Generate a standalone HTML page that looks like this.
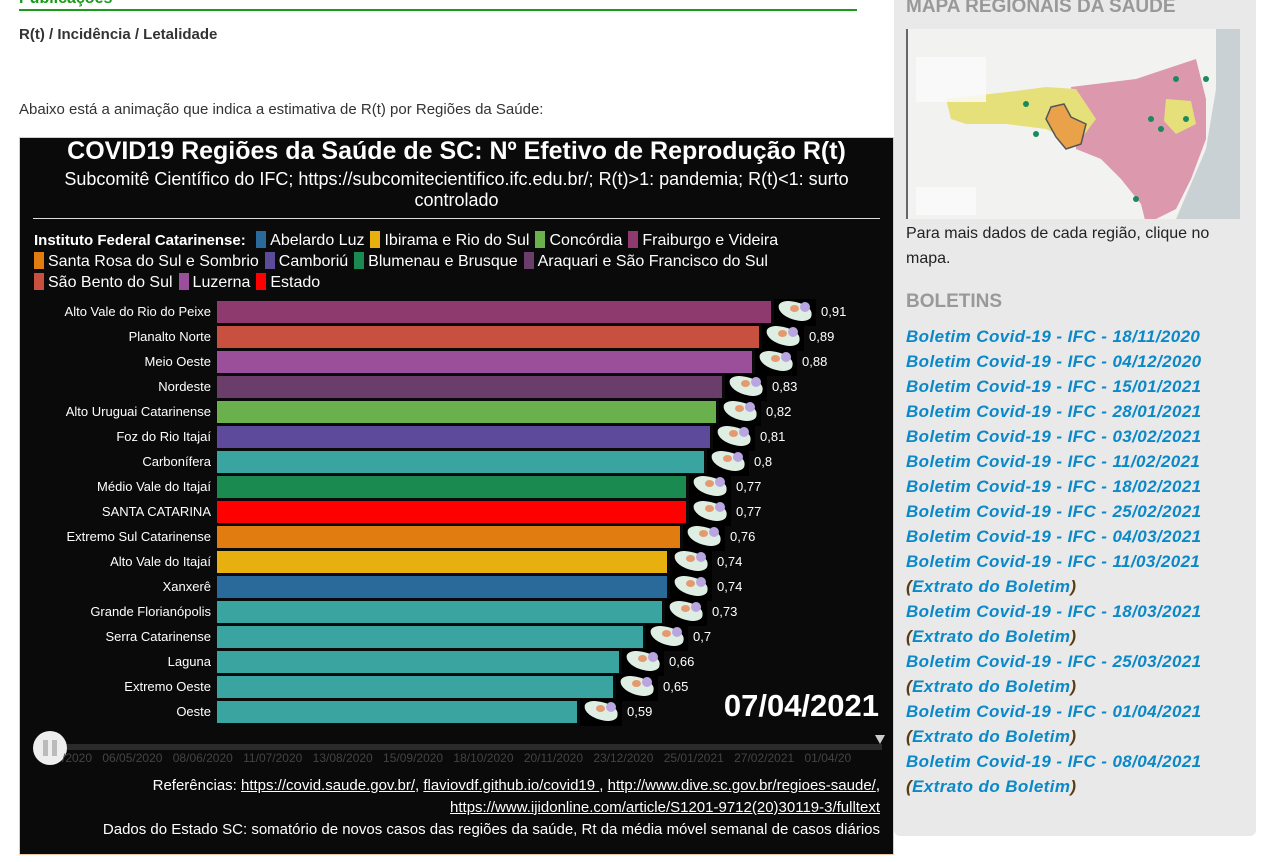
<!DOCTYPE html>
<html><head><meta charset="utf-8"><style>
*{margin:0;padding:0;box-sizing:border-box}
body{width:1272px;height:862px;background:#fff;position:relative;overflow:hidden;font-family:"Liberation Sans",sans-serif}
.a{position:absolute;white-space:nowrap}
.lab{position:absolute;right:1061px;font-size:13px;color:#fff;text-align:right;white-space:nowrap}
.bar{position:absolute;left:217px;height:22px}
.ic{position:absolute;width:42px;height:27px;background:#000}
.ic i{position:absolute;left:4px;top:3px;width:34px;height:18px;background:#dfeee2;border-radius:40% 60% 40% 70%;transform:rotate(10deg)}
.ic b{position:absolute;left:16px;top:6px;width:9px;height:7px;background:#e49a6e;border-radius:50%}
.ic s{position:absolute;left:26px;top:3px;width:10px;height:10px;background:#b9a6e0;border-radius:50%}
.val{position:absolute;font-size:13px;color:#fff}
.leg{font-size:16px;color:#fff}
.sw{display:inline-block;width:10px;height:17px;vertical-align:-3px;margin:0 4px 0 6px}
.bl{position:absolute;left:906px;font-size:17px;letter-spacing:0.4px;font-weight:bold;font-style:italic;color:#0a88c8;white-space:nowrap}
.bl span{color:#5a3a10}
</style></head><body>
<div class="a" style="left:19px;top:-10px;font-size:16px;font-weight:bold;color:#1a9a1a">Publicações</div>
<div class="a" style="left:19px;top:9px;width:838px;height:2px;background:#1a9a1a"></div>
<div class="a" style="left:19px;top:26px;font-size:15px;font-weight:bold;color:#333">R(t) / Incidência / Letalidade</div>
<div class="a" style="left:19px;top:101px;font-size:15px;color:#333">Abaixo está a animação que indica a estimativa de R(t) por Regiões da Saúde:</div>

<div class="a" style="left:19px;top:137px;width:875px;height:718px;background:#0a0a0a;border:1px solid #f0c8a8"></div>
<div class="a" style="left:19px;top:137px;width:875px;text-align:center;font-size:25px;font-weight:bold;color:#fff">COVID19 Regiões da Saúde de SC: Nº Efetivo de Reprodução R(t)</div>
<div class="a" style="left:19px;top:169px;width:875px;text-align:center;font-size:18px;color:#fff;line-height:21px;white-space:normal;padding:0 28px">Subcomitê Científico do IFC; https://subcomitecientifico.ifc.edu.br/; R(t)&gt;1: pandemia; R(t)&lt;1: surto controlado</div>
<div class="a" style="left:33px;top:218px;width:847px;height:1px;background:#ddd"></div>
<div class="a leg" style="left:34px;top:231px"><b style="font-size:15px">Instituto Federal Catarinense:</b> <span class="sw" style="background:#2a6a9a"></span>Abelardo Luz<span class="sw" style="background:#e8b00f"></span>Ibirama e Rio do Sul<span class="sw" style="background:#6ab04c"></span>Concórdia<span class="sw" style="background:#8e3a6e"></span>Fraiburgo e Videira</div>
<div class="a leg" style="left:28px;top:252px"><span class="sw" style="background:#e07c10"></span>Santa Rosa do Sul e Sombrio<span class="sw" style="background:#5e4a9a"></span>Camboriú<span class="sw" style="background:#1a8a50"></span>Blumenau e Brusque<span class="sw" style="background:#6b3d6b"></span>Araquari e São Francisco do Sul</div>
<div class="a leg" style="left:28px;top:273px"><span class="sw" style="background:#c8503f"></span>São Bento do Sul<span class="sw" style="background:#9b4f9b"></span>Luzerna<span class="sw" style="background:#ff0000"></span>Estado</div>

<div id="bars"></div>
<script>
var d=[["Alto Vale do Rio do Peixe",771,"#8e3a6e","0,91"],["Planalto Norte",759,"#c8503f","0,89"],["Meio Oeste",752,"#9b4f9b","0,88"],["Nordeste",722,"#6b3d6b","0,83"],["Alto Uruguai Catarinense",716,"#6ab04c","0,82"],["Foz do Rio Itajaí",710,"#5e4a9a","0,81"],["Carbonífera",704,"#3aa5a0","0,8"],["Médio Vale do Itajaí",686,"#1a8a50","0,77"],["SANTA CATARINA",686,"#ff0000","0,77"],["Extremo Sul Catarinense",680,"#e07c10","0,76"],["Alto Vale do Itajaí",667,"#e8b00f","0,74"],["Xanxerê",667,"#2a6a9a","0,74"],["Grande Florianópolis",662,"#3aa5a0","0,73"],["Serra Catarinense",643,"#3aa5a0","0,7"],["Laguna",619,"#3aa5a0","0,66"],["Extremo Oeste",613,"#3aa5a0","0,65"],["Oeste",577,"#3aa5a0","0,59"]];
var h="";d.forEach(function(r,i){var y=301+i*25;
h+='<div class="lab" style="top:'+(y+3)+'px">'+r[0]+'</div><div class="bar" style="top:'+y+'px;width:'+(r[1]-217)+'px;background:'+r[2]+'"></div><div class="ic" style="left:'+(r[1]+3)+'px;top:'+(y-2)+'px"><i></i><b></b><s></s></div><div class="val" style="left:'+(r[1]+50)+'px;top:'+(y+3)+'px">'+r[3]+'</div>';});
document.getElementById("bars").innerHTML=h;
</script>
<div class="a" style="right:393px;top:688px;font-size:31px;font-weight:bold;color:#fff">07/04/2021</div>
<div class="a" style="left:40px;top:744px;width:842px;height:6px;background:#2a2a2a"></div>
<div class="a" style="left:875px;top:735px;width:0;height:0;border-left:5px solid transparent;border-right:5px solid transparent;border-top:9px solid #ccc"></div>
<div class="a" style="left:33px;top:731px;width:34px;height:34px;border-radius:50%;background:#eee"></div>
<div class="a" style="left:43px;top:740px;width:5px;height:16px;background:#bbb"></div>
<div class="a" style="left:52px;top:740px;width:5px;height:16px;background:#bbb"></div>
<div class="a" style="left:62px;top:751px;font-size:12px;color:#444;word-spacing:7px">/2020 06/05/2020 08/06/2020 11/07/2020 13/08/2020 15/09/2020 18/10/2020 20/11/2020 23/12/2020 25/01/2021 27/02/2021 01/04/20</div>
<div class="a" style="right:392px;top:777px;font-size:15px;color:#fff">Referências: <u>https://covid.saude.gov.br/</u>, <u>flaviovdf.github.io/covid19 </u>, <u>http://www.dive.sc.gov.br/regioes-saude/</u>,</div>
<div class="a" style="right:392px;top:799px;font-size:15px;color:#fff"><u>https://www.ijidonline.com/article/S1201-9712(20)30119-3/fulltext</u></div>
<div class="a" style="right:392px;top:821px;font-size:15px;color:#fff">Dados do Estado SC: somatório de novos casos das regiões da saúde, Rt da média móvel semanal de casos diários</div>

<div class="a" style="left:894px;top:-10px;width:362px;height:846px;background:#e9e9e9;border-radius:6px"></div>
<div class="a" style="left:906px;top:-4px;font-size:19px;font-weight:bold;color:#999">MAPA REGIONAIS DA SAÚDE</div>
<svg class="a" style="left:906px;top:29px" width="334" height="190" viewBox="0 0 334 190">
<rect width="334" height="190" fill="#f2f2f0"/><rect x="0" width="2" height="190" fill="#666"/>
<path d="M310 0 L334 0 L334 190 L270 190 L300 120 L310 60 Z" fill="#c9d1d4"/>
<path d="M165 58 L230 50 L290 30 L300 70 L300 110 L285 150 L270 180 L240 195 L235 175 L215 150 L195 130 L170 120 L170 95 Z" fill="#dc98ac"/>
<path d="M40 70 L110 62 L140 58 L170 60 L190 90 L175 110 L160 110 L140 100 L100 95 L60 95 L45 90 Z" fill="#e6e07a"/>
<path d="M145 78 L158 75 L165 88 L180 95 L175 115 L160 120 L150 108 L140 90 Z" fill="#e9a24a" stroke="#555" stroke-width="1.5"/>
<path d="M260 70 L285 72 L290 95 L270 105 L258 92 Z" fill="#e6e07a"/>
<g fill="#1a8a5a"><circle cx="270" cy="50" r="3"/><circle cx="300" cy="50" r="3"/><circle cx="245" cy="90" r="3"/><circle cx="255" cy="100" r="3"/><circle cx="280" cy="90" r="3"/><circle cx="120" cy="75" r="3"/><circle cx="130" cy="105" r="3"/><circle cx="230" cy="170" r="3"/></g>
<rect x="10" y="28" width="70" height="45" fill="#fafafa" opacity="0.85"/><rect x="10" y="158" width="60" height="28" fill="#fafafa" opacity="0.85"/>
</svg>
<div class="a" style="left:906px;top:221px;font-size:16px;color:#222;line-height:25px">Para mais dados de cada região, clique no<br>mapa.</div>
<div class="a" style="left:906px;top:291px;font-size:19px;font-weight:bold;color:#999">BOLETINS</div>
<div class="bl" style="top:327px">Boletim Covid-19 - IFC - 18/11/2020</div>
<div class="bl" style="top:352px">Boletim Covid-19 - IFC - 04/12/2020</div>
<div class="bl" style="top:377px">Boletim Covid-19 - IFC - 15/01/2021</div>
<div class="bl" style="top:402px">Boletim Covid-19 - IFC - 28/01/2021</div>
<div class="bl" style="top:427px">Boletim Covid-19 - IFC - 03/02/2021</div>
<div class="bl" style="top:452px">Boletim Covid-19 - IFC - 11/02/2021</div>
<div class="bl" style="top:477px">Boletim Covid-19 - IFC - 18/02/2021</div>
<div class="bl" style="top:502px">Boletim Covid-19 - IFC - 25/02/2021</div>
<div class="bl" style="top:527px">Boletim Covid-19 - IFC - 04/03/2021</div>
<div class="bl" style="top:552px">Boletim Covid-19 - IFC - 11/03/2021</div>
<div class="bl" style="top:577px"><span>(</span>Extrato do Boletim<span>)</span></div>
<div class="bl" style="top:602px">Boletim Covid-19 - IFC - 18/03/2021</div>
<div class="bl" style="top:627px"><span>(</span>Extrato do Boletim<span>)</span></div>
<div class="bl" style="top:652px">Boletim Covid-19 - IFC - 25/03/2021</div>
<div class="bl" style="top:677px"><span>(</span>Extrato do Boletim<span>)</span></div>
<div class="bl" style="top:702px">Boletim Covid-19 - IFC - 01/04/2021</div>
<div class="bl" style="top:727px"><span>(</span>Extrato do Boletim<span>)</span></div>
<div class="bl" style="top:752px">Boletim Covid-19 - IFC - 08/04/2021</div>
<div class="bl" style="top:777px"><span>(</span>Extrato do Boletim<span>)</span></div>
</body></html>
